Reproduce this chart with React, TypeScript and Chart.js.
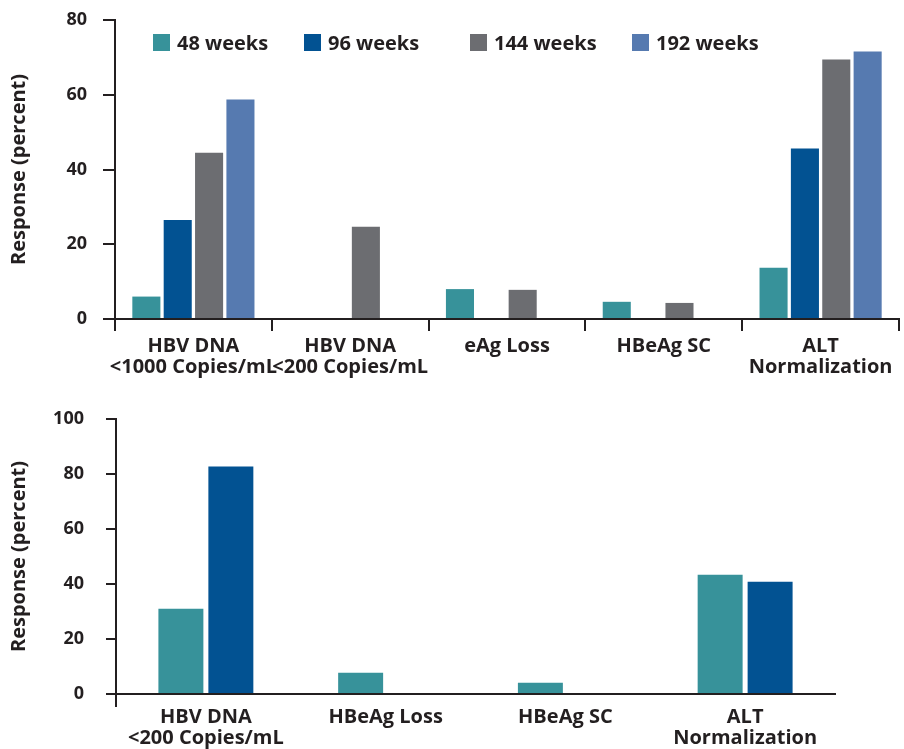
import React, { useEffect, useRef } from "react";
import { Chart, registerables } from "chart.js";

Chart.register(...registerables);

// ---------- data ----------
const seriesNames = ["48 weeks", "96 weeks", "144 weeks", "192 weeks"];

const topCategories = [
  ["HBV DNA", "<1000 Copies/mL"],
  ["HBV DNA", "<200 Copies/mL"],
  "eAg Loss",
  "HBeAg SC",
  ["ALT", "Normalization"],
];
const top48 = [6, null, 8, 4.6, 13.7];
const top96 = [26.5, null, null, null, 45.6];
const top144 = [44.5, 24.7, 7.8, 4.3, 69.4];
const top192 = [58.7, null, null, null, 71.6];
const topTicks = [0, 20, 40, 60, 80];

const bottomCategories = [
  ["HBV DNA", "<200 Copies/mL"],
  "HBeAg Loss",
  "HBeAg SC",
  ["ALT", "Normalization"],
];
const bottom48 = [31, 7.7, 4.1, 43.4];
const bottom96 = [82.7, null, null, 40.8];
const bottomTicks = [0, 20, 40, 60, 80, 100];

const yTitle = "Response (percent)";

// ---------- styles ----------
const COLORS = ["#37929a", "#025292", "#6c6d71", "#567ab0"];
const DARK = "#231f20";
const FONT = "'Open Sans', 'DejaVu Sans', sans-serif";
const TRANSPARENT = "rgba(0,0,0,0)";

type Opts = {
  yTicks: number[];
  padTop: number;
  padRight: number;
  yWidth: number;
  xHeight: number;
  yTickLen: number;
  yTickPad: number;
  xTickLen: number;
  xTickPad: number;
  xGridColor: (ctx: any) => string;
};

function buildOptions(o: Opts): any {
  return {
    responsive: false,
    animation: false,
    layout: { padding: { left: 0, top: o.padTop, right: o.padRight, bottom: 0 } },
    plugins: { legend: { display: false }, tooltip: { enabled: false } },
    scales: {
      x: {
        grid: {
          offset: true,
          drawOnChartArea: false,
          drawTicks: true,
          tickLength: o.xTickLen,
          lineWidth: 2,
          color: o.xGridColor,
        },
        border: { display: true, color: DARK, width: 2 },
        ticks: {
          autoSkip: false,
          maxRotation: 0,
          minRotation: 0,
          padding: o.xTickPad,
          color: DARK,
          font: { family: FONT, size: 20, weight: "bold", lineHeight: 1.05 },
        },
        afterFit: (s: any) => {
          s.height = o.xHeight;
        },
      },
      y: {
        min: o.yTicks[0],
        max: o.yTicks[o.yTicks.length - 1],
        afterBuildTicks: (s: any) => {
          s.ticks = o.yTicks.map((v) => ({ value: v }));
        },
        grid: {
          drawOnChartArea: false,
          drawTicks: true,
          tickLength: o.yTickLen,
          lineWidth: 2,
          color: DARK,
        },
        border: { display: true, color: DARK, width: 2 },
        ticks: {
          padding: o.yTickPad,
          color: DARK,
          font: { family: FONT, size: 18, weight: "bold" },
        },
        title: {
          display: true,
          text: yTitle,
          color: DARK,
          font: { family: FONT, size: 20, weight: "bold", lineHeight: 1.2 },
          padding: { top: 7.5, bottom: 0 },
        },
        afterFit: (s: any) => {
          s.width = o.yWidth;
          s.paddingTop = 10;
          s.paddingBottom = 10;
        },
      },
    },
  };
}

function TopChart() {
  const ref = useRef<HTMLCanvasElement>(null);
  useEffect(() => {
    const series = [top48, top96, top144, top192];
    const chart = new Chart(ref.current as HTMLCanvasElement, {
      type: "bar",
      data: {
        labels: topCategories as any,
        datasets: series.map((d, i) => ({
          label: seriesNames[i],
          data: d as any,
          backgroundColor: COLORS[i],
          borderWidth: 0,
          categoryPercentage: 0.8,
          barPercentage: 0.895,
        })),
      },
      options: buildOptions({
        yTicks: topTicks,
        padTop: 20,
        padRight: 5,
        yWidth: 115,
        xHeight: 61,
        yTickLen: 12,
        yTickPad: 16,
        xTickLen: 12,
        xTickPad: 5,
        xGridColor: (ctx: any) => (ctx.index >= topCategories.length ? TRANSPARENT : DARK),
      }),
    });
    return () => chart.destroy();
  }, []);

  const legendLeft = [153, 304, 470, 632];
  return (
    <div style={{ position: "absolute", left: 0, top: 0, width: 904, height: 380 }}>
      <canvas ref={ref} width={904} height={380} style={{ display: "block" }} />
      {seriesNames.map((name, i) => (
        <div
          key={name}
          style={{
            position: "absolute",
            left: legendLeft[i],
            top: 34,
            height: 18,
            display: "flex",
            alignItems: "flex-start",
            fontFamily: FONT,
            fontWeight: "bold",
            fontSize: 20,
            lineHeight: "18px",
            color: DARK,
            whiteSpace: "nowrap",
          }}
        >
          <span
            style={{
              display: "inline-block",
              width: 17,
              height: 17,
              background: COLORS[i],
              marginRight: 7,
              flex: "none",
            }}
          />
          <span>{name}</span>
        </div>
      ))}
    </div>
  );
}

function BottomChart() {
  const ref = useRef<HTMLCanvasElement>(null);
  useEffect(() => {
    const series = [bottom48, bottom96];
    const chart = new Chart(ref.current as HTMLCanvasElement, {
      type: "bar",
      data: {
        labels: bottomCategories as any,
        datasets: series.map((d, i) => ({
          label: seriesNames[i],
          data: d as any,
          backgroundColor: COLORS[i],
          borderWidth: 0,
          categoryPercentage: 0.556,
          barPercentage: 0.9,
        })),
      },
      options: buildOptions({
        yTicks: bottomTicks,
        padTop: 39,
        padRight: 69,
        yWidth: 116,
        xHeight: 55,
        yTickLen: 10,
        yTickPad: 22,
        xTickLen: 13,
        xTickPad: 0,
        xGridColor: (ctx: any) => (ctx.index === 0 ? DARK : TRANSPARENT),
      }),
    });
    return () => chart.destroy();
  }, []);
  return (
    <div style={{ position: "absolute", left: 0, top: 380, width: 904, height: 369 }}>
      <canvas ref={ref} width={904} height={369} style={{ display: "block" }} />
    </div>
  );
}

export default function App() {
  return (
    <div
      style={{
        position: "absolute",
        left: 0,
        top: 0,
        width: 904,
        height: 749,
        background: "#ffffff",
        overflow: "hidden",
      }}
    >
      <TopChart />
      <BottomChart />
    </div>
  );
}
